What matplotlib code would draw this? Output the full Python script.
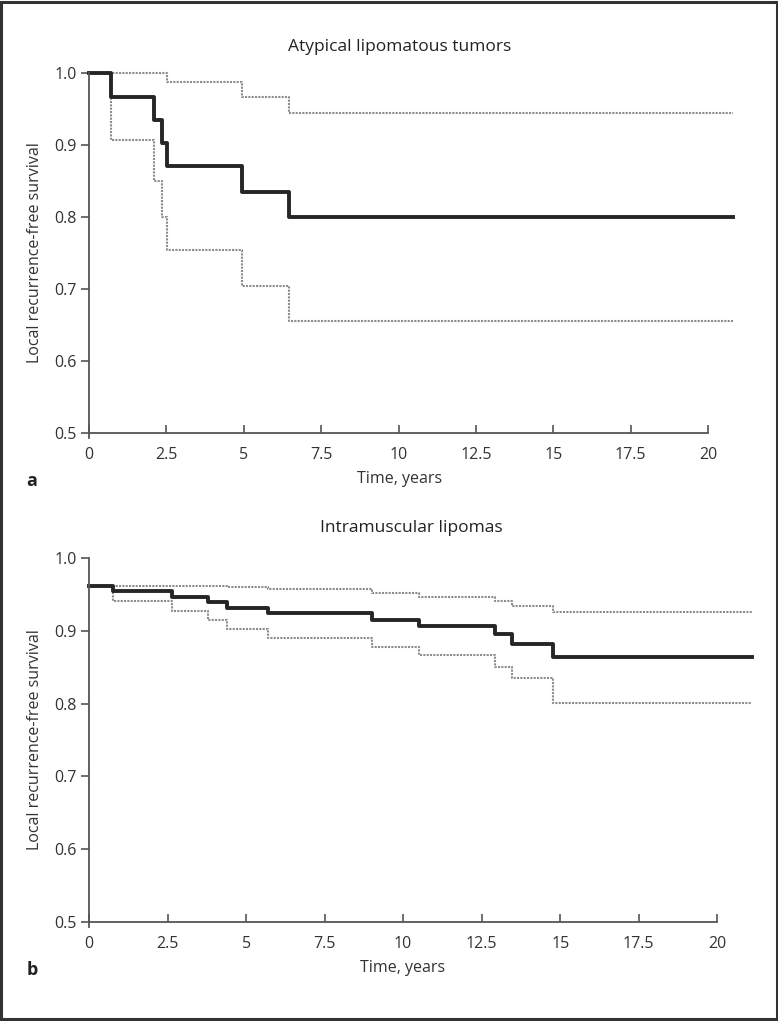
import matplotlib
matplotlib.use("Agg")
import matplotlib.pyplot as plt
from matplotlib.patches import Rectangle

plt.rcParams['font.family'] = ['Open Sans', 'DejaVu Sans']

# --- data ---
# a: atypical lipomatous tumors
alt_t = [0, 0.7, 2.1, 2.37, 2.53, 4.94, 6.45, 20.8]
alt_s = [1.0, 0.966, 0.935, 0.903, 0.871, 0.835, 0.800, 0.800]
alt_hi_t = [0, 2.53, 4.94, 6.45, 20.8]
alt_hi = [1.0, 0.988, 0.967, 0.944, 0.944]
alt_lo_t = [0, 0.7, 2.1, 2.37, 2.53, 4.94, 6.45, 20.8]
alt_lo = [1.0, 0.907, 0.850, 0.800, 0.754, 0.704, 0.656, 0.656]

# b: intramuscular lipomas
iml_t = [0, 0.76, 2.64, 3.79, 4.39, 5.70, 9.01, 10.5, 12.93, 13.47, 14.78, 21.1]
iml_s = [0.962, 0.955, 0.946, 0.940, 0.931, 0.924, 0.915, 0.907, 0.896, 0.882, 0.864, 0.864]
iml_hi_t = [0, 4.39, 5.70, 9.01, 10.5, 12.93, 13.47, 14.78, 21.1]
iml_hi = [0.962, 0.960, 0.957, 0.952, 0.946, 0.941, 0.934, 0.926, 0.926]
iml_lo_t = [0, 0.76, 2.64, 3.79, 4.39, 5.70, 9.01, 10.5, 12.93, 13.47, 14.78, 21.1]
iml_lo = [0.962, 0.941, 0.927, 0.915, 0.902, 0.890, 0.878, 0.867, 0.850, 0.835, 0.801, 0.801]

x_ticks = [0, 2.5, 5, 7.5, 10, 12.5, 15, 17.5, 20]
x_ticklabels = ['0', '2.5', '5', '7.5', '10', '12.5', '15', '17.5', '20']
y_ticks = [0.5, 0.6, 0.7, 0.8, 0.9, 1.0]

fig = plt.figure(figsize=(7.78, 10.21), dpi=100)
ax1 = fig.add_axes([0.1144, 0.5759, 0.8316, 0.3526])
ax2 = fig.add_axes([0.1144, 0.0970, 0.8560, 0.3565])

ci_style = dict(color='#8c8c8c', lw=1.5, ls=(0, (1, 0.6)), where='post', clip_on=False)
main_style = dict(color='#262626', lw=2.8, where='post', clip_on=False)


def style_axes(ax, xmax):
    ax.set_xlim(0, xmax)
    ax.set_ylim(0.5, 1.0)
    for s in ['top', 'right']:
        ax.spines[s].set_visible(False)
    for s in ['left', 'bottom']:
        ax.spines[s].set_color('#555555')
        ax.spines[s].set_linewidth(1.3)
    ax.spines['bottom'].set_bounds(0, 20)
    ax.spines['left'].set_bounds(0.493, 1.0)
    ax.set_xticks(x_ticks)
    ax.set_xticklabels(x_ticklabels)
    ax.set_yticks(y_ticks)
    ax.set_yticklabels([f'{v:.1f}' for v in y_ticks])
    ax.tick_params(axis='x', direction='in', length=6, width=1.2, color='#555555',
                   labelsize=11.5, labelcolor='#333333', pad=10)
    ax.tick_params(axis='y', direction='out', length=6, width=1.2, color='#555555',
                   labelsize=11.5, labelcolor='#333333', pad=3)
    ax.set_ylabel('Local recurrence-free survival', fontsize=11.5, color='#333333', labelpad=8)


ax1.step(alt_hi_t, alt_hi, **ci_style)
ax1.step(alt_lo_t, alt_lo, **ci_style)
ax1.step(alt_t, alt_s, **main_style)
style_axes(ax1, 20.9)

ax2.step(iml_hi_t, iml_hi, **ci_style)
ax2.step(iml_lo_t, iml_lo, **ci_style)
ax2.step(iml_t, iml_s, **main_style)
style_axes(ax2, 21.2)

# titles, axis labels, panel letters
fig.text(400 / 778, 1 - 47 / 1021, 'Atypical lipomatous tumors', ha='center', va='center',
         fontsize=12.5, color='#222222')
fig.text(411 / 778, 1 - 528 / 1021, 'Intramuscular lipomas', ha='center', va='center',
         fontsize=12.5, color='#222222')
fig.text(400 / 778, 1 - 479 / 1021, 'Time, years', ha='center', va='center', fontsize=11.5, color='#333333')
fig.text(403 / 778, 1 - 968 / 1021, 'Time, years', ha='center', va='center', fontsize=11.5, color='#333333')
fig.text(32 / 778, 1 - 481 / 1021, 'a', ha='center', va='center', fontsize=13, fontweight='bold', color='#222222')
fig.text(32 / 778, 1 - 970 / 1021, 'b', ha='center', va='center', fontsize=13, fontweight='bold', color='#222222')

# outer frame
fig.patches.append(Rectangle((0.0015, 0.0015), 0.997, 0.997, transform=fig.transFigure,
                             fill=False, edgecolor='#333333', linewidth=2.2))

fig.savefig('out.png', dpi=100)
